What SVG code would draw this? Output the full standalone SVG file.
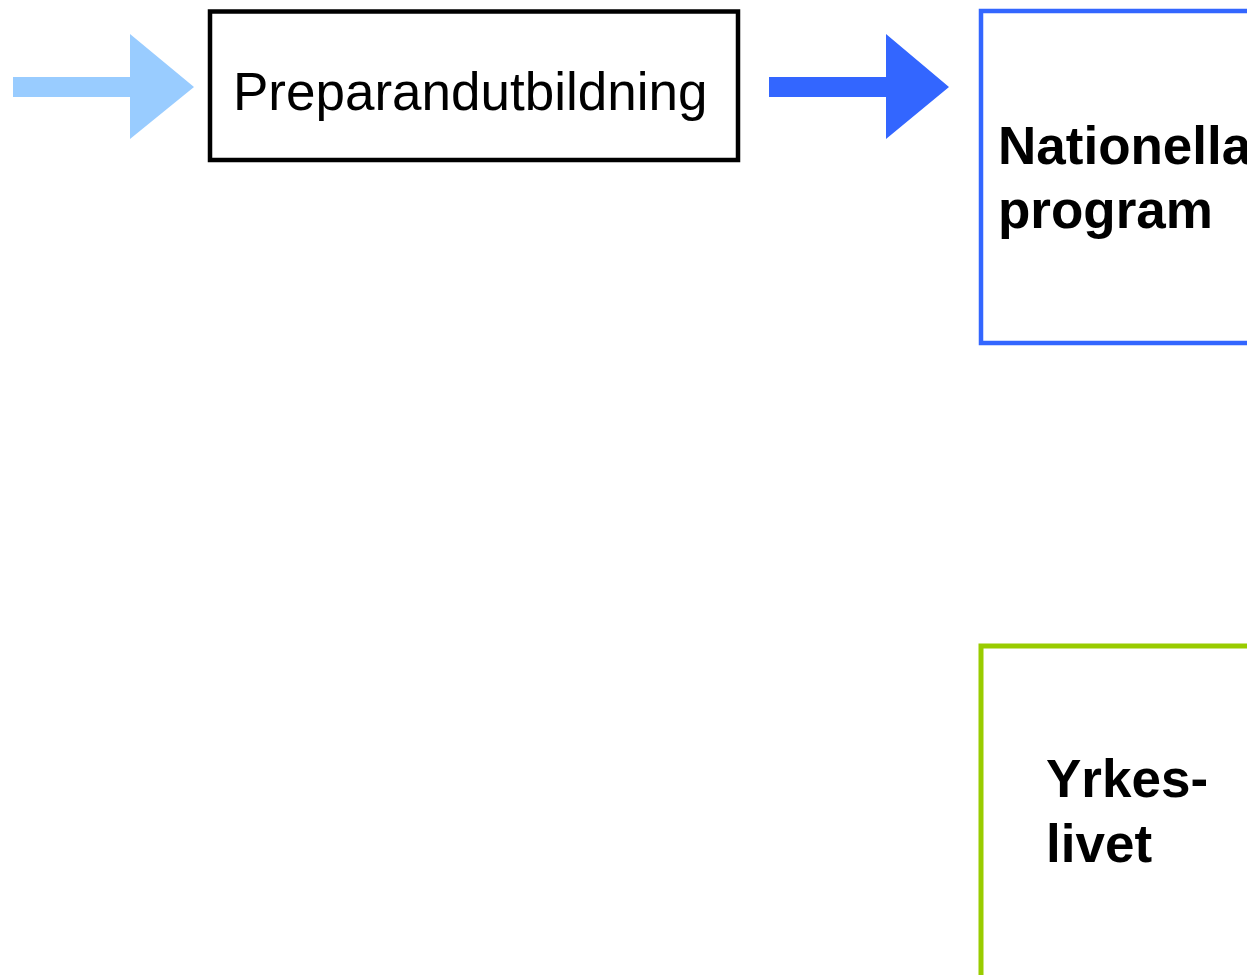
<svg xmlns="http://www.w3.org/2000/svg" width="1247" height="975" viewBox="0 0 1247 975">
<style>
.lbl{font-family:"Liberation Sans",Arial,sans-serif;font-size:53px;fill:#000}
.b{font-weight:bold}
</style>
<rect width="1247" height="975" fill="#fff"/>
<g id="connectors">
<polygon id="arrow-in" points="13,77 130,77 130,34 194,87 130,139 130,97 13,97" fill="#99ccff"/>
<polygon id="arrow-out" points="769,77 886,77 886,34 949,87 886,139 886,97 769,97" fill="#3366ff"/>
</g>
<g id="node-preparand">
<rect x="210" y="11.5" width="528" height="148.5" fill="none" stroke="#000" stroke-width="4.5"/>
<text class="lbl" x="233" y="110">Preparandutbildning</text>
</g>
<g id="node-nationella">
<rect x="981" y="11" width="300" height="332" fill="none" stroke="#3366ff" stroke-width="4.5"/>
<text class="lbl b" x="998" y="164">Nationella</text>
<text class="lbl b" x="998" y="228">program</text>
</g>
<g id="node-yrkeslivet">
<rect x="981" y="646" width="300" height="360" fill="none" stroke="#99cc00" stroke-width="5"/>
<text class="lbl b" x="1046" y="797">Yrkes-</text>
<text class="lbl b" x="1046" y="862">livet</text>
</g>
</svg>
